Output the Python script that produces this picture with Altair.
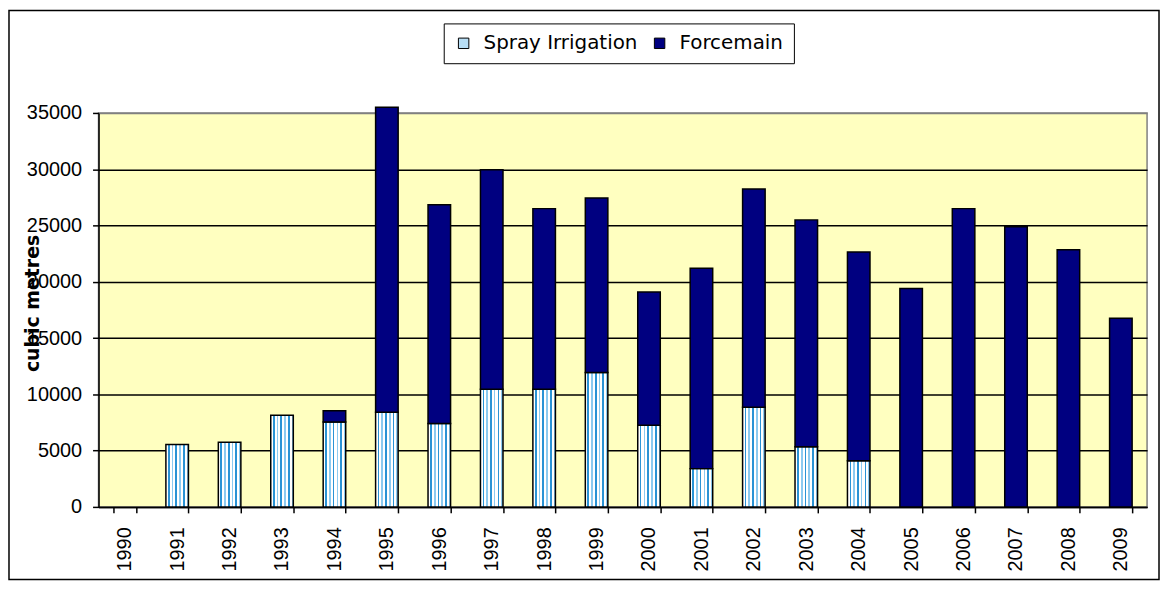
import altair as alt
import pandas as pd

years = [str(y) for y in range(1990, 2010)]
spray = [0, 5550, 5750, 8150, 7550, 8400, 7400, 10450, 10450, 11950,
         7250, 3400, 8850, 5350, 4100, 0, 0, 0, 0, 0]
forcemain = [0, 0, 0, 0, 1000, 27100, 19450, 19500, 16050, 15500,
             11850, 17800, 19400, 20150, 18550, 19400, 26500, 24900, 22850, 16750]
series_names = ["Spray Irrigation", "Forcemain"]
y_ticks = [0, 5000, 10000, 15000, 20000, 25000, 30000, 35000]

rows = []
for i, yr in enumerate(years):
    rows.append({"year": yr, "series": series_names[0], "value": spray[i], "k": 0})
    rows.append({"year": yr, "series": series_names[1], "value": forcemain[i], "k": 1})
df = pd.DataFrame(rows)


def stripes(n=6):
    stops = []
    for j in range(n):
        a = j / n
        b = (j + 1) / n
        m = a + 0.55 * (b - a)
        blue = "#2a93d5" if j % 2 == 0 else "#8ccaf0"
        stops += [
            {"offset": a, "color": "white"},
            {"offset": m, "color": "white"},
            {"offset": m, "color": blue},
            {"offset": b, "color": blue},
        ]
    return {"gradient": "linear", "x1": 0, "y1": 0, "x2": 1, "y2": 0, "stops": stops}


grad = stripes(6)

bars = alt.Chart(df).transform_filter("datum.value > 0").mark_bar(
    stroke="black", strokeWidth=1.5
).encode(
    x=alt.X(
        "year:N",
        sort=years,
        scale=alt.Scale(domain=years, paddingInner=0.57, paddingOuter=0.285),
        axis=alt.Axis(
            title=None, labelAngle=270, tickBand="extent",
            labelFont="Liberation Sans", labelFontSize=20, labelColor="black",
            tickColor="black", tickSize=6, tickWidth=1.5,
            domainColor="black", domainWidth=1.5, labelPadding=14, grid=False,
        ),
    ),
    y=alt.Y(
        "value:Q",
        stack="zero",
        scale=alt.Scale(domain=[0, 35000], nice=False),
        axis=alt.Axis(
            title="cubic metres", values=y_ticks, format="d",
            labelFont="Liberation Sans", labelFontSize=20, labelColor="black",
            tickSize=6, tickColor="black", tickWidth=1.5,
            domainColor="black", domainWidth=1.5,
            gridColor=alt.condition("datum.value === 35000", alt.value("#808080"), alt.value("black")),
            gridWidth=1.5, labelPadding=11,
            titleFont="DejaVu Sans", titleFontWeight="bold", titleFontSize=19,
            titleColor="black", titleX=-66, titleY=191, titleAngle=270,
            titleAlign="center", titleBaseline="middle",
        ),
    ),
    color=alt.condition(
        "datum.series === 'Spray Irrigation'",
        alt.value(grad),
        alt.Color(
            "series:N",
            scale=alt.Scale(domain=series_names, range=["#b8def5", "#000080"]),
            legend=alt.Legend(
                title=None, orient="none", legendX=347, legendY=-90,
                direction="horizontal", symbolType="square", symbolSize=110,
                symbolStrokeColor="black", symbolStrokeWidth=1,
                labelFont="DejaVu Sans", labelFontSize=20, labelColor="black",
                labelLimit=400, labelOffset=10, columnPadding=12, padding=10,
                strokeColor="black", fillColor="white",
            ),
        ),
    ),
    order=alt.Order("k:Q"),
)

border = alt.Chart(pd.DataFrame({"b": [0]})).mark_rect(
    fillOpacity=0, stroke="black", strokeWidth=1.5
).encode(
    x=alt.value(-90), x2=alt.value(1066), y=alt.value(-103), y2=alt.value(469)
)

chart = alt.layer(border, bars).properties(
    width=1054, height=396, padding=0, background="white"
).configure_view(
    fill="#FFFFC0", stroke="#808080", strokeWidth=1.5
)

chart.save("out.html", embed_options={"renderer": "svg", "actions": False})
